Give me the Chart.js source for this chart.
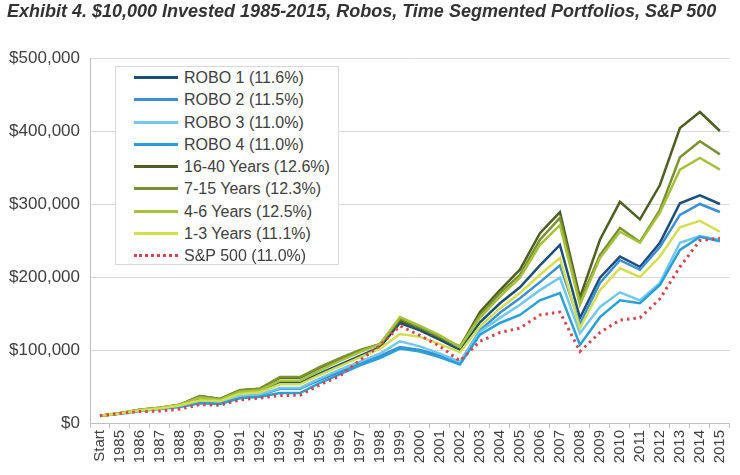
<!DOCTYPE html>
<html>
<head>
<meta charset="utf-8">
<script src="https://cdn.jsdelivr.net/npm/chart.js@4.4.1/dist/chart.umd.min.js"></script>
<style>
  html, body { margin: 0; padding: 0; background: #fff; }
  #wrap { position: relative; width: 740px; height: 475px; overflow: hidden; font-family: "Liberation Sans", Arial, sans-serif; }
  #title { position: absolute; left: 7px; top: 1px; font-size: 18px; font-weight: bold; font-style: italic; color: #333; white-space: nowrap; }
  #legend { position: absolute; left: 115px; top: 66px; width: 224px; height: 199px; border: 1px solid #d9d9d9; background: #fff; box-sizing: border-box; }
  .row { position: absolute; left: 0; height: 22px; width: 100%; }
  .sw { position: absolute; left: 18px; top: 9px; width: 44px; height: 0; }
  .lbl { position: absolute; left: 68px; top: 0; line-height: 22px; font-size: 16px; color: #404040; white-space: nowrap; }
</style>
</head>
<body>
<div id="wrap">
  <canvas id="c" width="740" height="475"></canvas>
  <div id="title">Exhibit 4. $10,000 Invested 1985-2015, Robos, Time Segmented Portfolios, S&amp;P 500</div>
  <div id="legend"></div>
</div>
<script>
const titleText = "Exhibit 4. $10,000 Invested 1985-2015, Robos, Time Segmented Portfolios, S&P 500";
const categories = ["Start","1985","1986","1987","1988","1989","1990","1991","1992","1993","1994","1995","1996","1997","1998","1999","2000","2001","2002","2003","2004","2005","2006","2007","2008","2009","2010","2011","2012","2013","2014","2015"];
const seriesNames = ["ROBO 1 (11.6%)","ROBO 2 (11.5%)","ROBO 3 (11.0%)","ROBO 4 (11.0%)","16-40 Years (12.6%)","7-15 Years (12.3%)","4-6 Years (12.5%)","1-3 Years (11.1%)","S&P 500 (11.0%)"];
const yTicks = [0,100000,200000,300000,400000,500000];

// values in thousands of dollars
const robo1  = [10,13,17,20,24,32,30,41,43,55,55,68,80,92,104,137,127,114,100,138,164,186,216,244,144,199,228,214,247,301,312,300];
const robo2  = [10,13,17,20,23,29,28,36,38,47,47,59,70,82,92,104,100,93,83,127,151,171,193,216,136,192,223,210,241,285,300,289];
const robo3  = [10,13,17,20,23,30,29,37,39,48,48,61,73,84,95,112,105,95,84,125,144,162,182,199,123,159,179,168,192,247,256,251];
const robo4  = [10,12.8,16.5,19,22,27,26,34,36,41,41,55,67,79,89,102,98,90,80,121,137,148,168,178,107,145,168,164,189,237,255,249];
const yrs1640 = [10,13.5,18,21,25,37,33,45,47,62,62,76,88,99,108,140,130,117,104,152,182,210,260,289,172,251,303,279,326,404,426,400];
const yrs715  = [10,13.5,18,21,25,37,33,45,47,63,63,77,89,100,108,143,131,118,105,148,178,203,251,281,166,230,267,248,292,364,386,368];
const yrs46   = [10,13.5,18,21,25,35,32,43,45,58,58,72,85,97,108,145,133,120,104,144,173,199,244,271,162,226,262,247,288,347,363,347];
const yrs13   = [10,13,17,20,24,31,30,40,42,53,53,66,78,90,102,122,118,108,97,132,157,178,203,226,130,182,212,200,228,268,277,262];
const sp500   = [10,13.2,15.6,16.4,19.1,25.2,24.4,31.8,34.2,37.6,38.1,52.4,64.5,86,106,133,120,105,85,112,124,130,148,152,98,124,141,144,170,214,250,253];

const seriesData = [robo1, robo2, robo3, robo4, yrs1640, yrs715, yrs46, yrs13, sp500];
const colors = ["#1f4e79","#3a8fd6","#72c8ec","#29a0d8","#4f5f22","#7a9332","#a6c23a","#d3df4c","#d9434f"];

const datasets = seriesData.map((arr, i) => {
  const isSP = i === 8;
  return {
    label: seriesNames[i],
    data: arr.map(v => v * 1000),
    borderColor: colors[i],
    backgroundColor: colors[i],
    borderWidth: isSP ? 3 : 2.5,
    borderDash: isSP ? [2.5, 4] : [],
    pointRadius: 0,
    tension: 0,
    fill: false,
    order: isSP ? 0 : 9 - i
  };
});

new Chart(document.getElementById('c'), {
  type: 'line',
  data: { labels: categories, datasets },
  options: {
    responsive: false,
    animation: false,
    layout: { padding: { top: 58, right: 5, left: 0, bottom: 0 } },
    plugins: { legend: { display: false }, title: { display: false }, tooltip: { enabled: false } },
    scales: {
      x: {
        offset: true,
        grid: { display: true, drawOnChartArea: false, drawTicks: true, tickLength: 5, offset: true, color: '#bfbfbf' },
        border: { display: true, color: '#bfbfbf', width: 1 },
        ticks: { autoSkip: false, minRotation: 90, maxRotation: 90, padding: 2, color: '#404040', font: { family: 'Liberation Sans, Arial, sans-serif', size: 15 } },
        afterFit: s => { s.height = 52; }
      },
      y: {
        min: 0, max: 500000,
        afterBuildTicks: s => { s.ticks = yTicks.map(v => ({ value: v })); },
        grid: { color: '#d9d9d9', drawTicks: false, lineWidth: 1 },
        border: { display: true, color: '#bfbfbf', width: 1 },
        ticks: { padding: 10, color: '#404040', font: { family: 'Liberation Sans, Arial, sans-serif', size: 17 },
                 callback: v => '$' + Number(v).toLocaleString('en-US') },
        afterFit: s => { s.width = 90; }
      }
    }
  }
});

// HTML legend built from series names and colours
const leg = document.getElementById('legend');
seriesNames.forEach((name, i) => {
  const row = document.createElement('div');
  row.className = 'row';
  row.style.top = (i * 22.25) + 'px';
  const sw = document.createElement('div');
  sw.className = 'sw';
  sw.style.borderTop = '3px ' + (i === 8 ? 'dotted ' : 'solid ') + colors[i];
  const lb = document.createElement('div');
  lb.className = 'lbl';
  lb.textContent = name;
  row.appendChild(sw); row.appendChild(lb);
  leg.appendChild(row);
});
</script>
</body>
</html>
